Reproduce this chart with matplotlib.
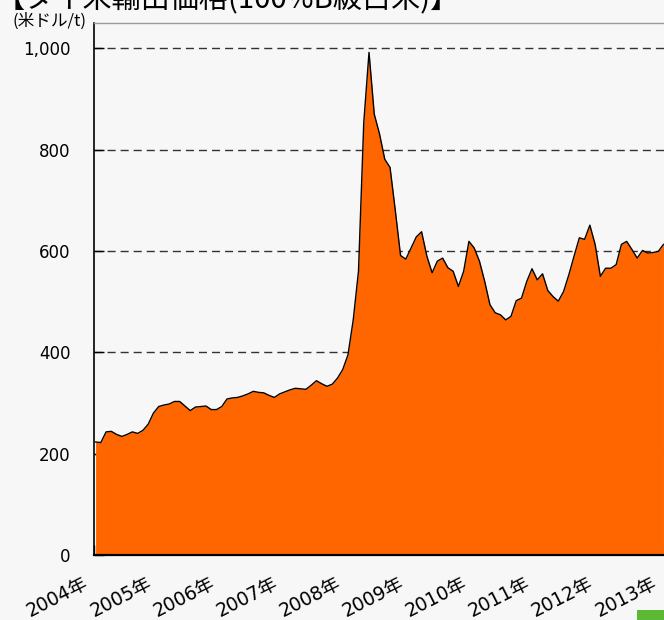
import numpy as np
import matplotlib
matplotlib.use('Agg')
import matplotlib.pyplot as plt
import matplotlib.transforms as mtransforms
from matplotlib.patches import Rectangle

plt.rcParams['font.family'] = ['DejaVu Sans', 'Noto Sans CJK JP']
cjk = ['Noto Sans CJK JP', 'DejaVu Sans']

# --- datos: precio mensual (US$/t), ene 2004 - ene 2013 ---
price_2004 = [223, 222, 243, 244, 238, 234, 238, 243, 240, 246, 258, 280]
price_2005 = [293, 296, 298, 303, 303, 294, 285, 292, 293, 294, 287, 287]
price_2006 = [293, 308, 310, 311, 314, 318, 323, 321, 320, 315, 311, 318]
price_2007 = [322, 326, 329, 328, 327, 335, 344, 338, 333, 337, 349, 366]
price_2008 = [395, 464, 560, 853, 992, 870, 831, 781, 765, 680, 591, 584]
price_2009 = [606, 628, 638, 590, 557, 580, 586, 567, 560, 530, 560, 619]
price_2010 = [606, 580, 540, 494, 478, 474, 464, 471, 502, 507, 540, 565]
price_2011 = [543, 555, 522, 510, 501, 520, 553, 590, 626, 623, 651, 613]
price_2012 = [550, 566, 566, 573, 613, 619, 603, 586, 601, 596, 597, 599]
price_2013 = [613]

years = list(range(2004, 2014))
year_labels = [f'{y}年' for y in years]
y_ticks = [0, 200, 400, 600, 800, 1000]
y_labels = ['0', '200', '400', '600', '800', '1,000']

price = np.array(price_2004 + price_2005 + price_2006 + price_2007 + price_2008
                 + price_2009 + price_2010 + price_2011 + price_2012 + price_2013)
t = 2004 + (np.arange(len(price)) + 0.3) / 12

bg = '#f7f7f7'
fig = plt.figure(figsize=(6.64, 6.2), dpi=100, facecolor=bg)
ax = fig.add_axes([94 / 664, 65 / 620, 631 / 664, 532 / 620], facecolor=bg)

ax.fill_between(t, price, 0, color='#ff6600', linewidth=0, zorder=2)
ax.plot(t, price, color='black', linewidth=1.0, zorder=3)

ax.set_xlim(2004, 2014)
ax.set_ylim(0, 1050)

ax.set_yticks(y_ticks)
ax.set_yticklabels(y_labels, fontsize=12)
ax.set_xticks(years)
ax.set_xticklabels([])

# etiquetas del eje x: giradas y desplazadas a la izquierda de cada marca
offset = mtransforms.ScaledTranslation(-11 / 100, -19 / 100, fig.dpi_scale_trans)
for yr, lab in zip(years, year_labels):
    ax.text(yr, 0, lab, transform=ax.get_xaxis_transform() + offset,
            fontsize=13.5, rotation=27, ha='right', va='top',
            rotation_mode='anchor', clip_on=False)

ax.tick_params(axis='y', direction='in', length=7, width=1, pad=17, colors='black')
ax.tick_params(axis='x', direction='in', length=7, width=1, colors='black')

ax.yaxis.grid(True, linestyle=(0, (5.8, 3.6)), color='#333333', linewidth=1.0)
ax.set_axisbelow(True)

ax.spines['left'].set_linewidth(1.2)
ax.spines['bottom'].set_linewidth(1.6)
ax.spines['top'].set_color('#999999')
ax.spines['top'].set_linewidth(1.0)
ax.spines['right'].set_visible(False)

# titulo (cortado por arriba en el original) y unidad
fig.text(-4 / 664, 1 - 7 / 620, '【タイ米輸出価格(100%B級白米)】', fontsize=21,
         ha='left', va='baseline', family=cjk)
fig.text(13 / 664, 1 - 21 / 620, '(米ドル/t)', fontsize=12, ha='left', va='center',
         family=cjk)

# marca verde en la esquina inferior derecha
fig.patches.append(Rectangle((637 / 664, 0), 30 / 664, 10 / 620, transform=fig.transFigure,
                             facecolor='#5db833', edgecolor='none'))

fig.savefig('out.png', dpi=100, facecolor=bg)
